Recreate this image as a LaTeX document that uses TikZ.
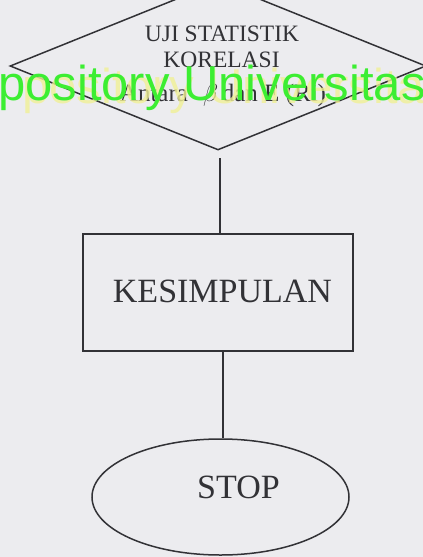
\documentclass[tikz,border=0pt]{standalone}
\usepackage{fontspec}
\setmainfont{Liberation Serif}
\newfontfamily\wmfont{Liberation Sans}
\usetikzlibrary{shapes.geometric}
\definecolor{paper}{RGB}{236,236,239}
\definecolor{ink}{RGB}{50,50,54}
\definecolor{wmgreen}{RGB}{60,238,50}
\definecolor{wmyellow}{RGB}{240,240,150}
\begin{document}
\begin{tikzpicture}[x=1pt,y=-1pt,
  shapeline/.style={draw=ink, line width=1.5pt},
  conn/.style={draw=ink, line width=1.5pt},
  smalltxt/.style={text=ink, inner sep=0pt, anchor=base, font=\fontsize{23.5}{26}\selectfont},
  bigtxt/.style={text=ink, inner sep=0pt, anchor=base, font=\fontsize{34}{38}\selectfont},
  wm/.style={inner sep=0pt, anchor=base west, font=\wmfont\fontsize{49}{55}\selectfont}]
\useasboundingbox (0,0) rectangle (423,557);
\fill[paper] (0,0) rectangle (423,557);
\begin{scope}
\clip (0,0) rectangle (423,557);
% diamond
\node[diamond, shapeline, minimum width=416pt, minimum height=168pt, inner sep=0pt] (uji) at (218,66) {};
\node[smalltxt] (t1) at (222,41) {UJI STATISTIK};
\node[smalltxt] (t2) at (221.5,67) {KORELASI};
\node[smalltxt, font=\fontsize{25}{28}\selectfont] (t3) at (223,101) {Antara\hspace{0.6em}{\fontsize{31}{31}\selectfont$\beta$}\hspace{0.15em}dan E (Ri)};
% rectangle
\node[shapeline, rectangle, minimum width=270pt, minimum height=117pt, inner sep=0pt] (kes) at (218,292.5) {};
\node[bigtxt] (kt) at (222.5,302) {KESIMPULAN};
% ellipse
\node[ellipse, shapeline, minimum width=257pt, minimum height=116pt, inner sep=0pt] (stop) at (220.5,497) {};
\node[bigtxt] (st) at (238.5,498) {STOP};
% connectors
\coordinate (c1) at (220,158);
\draw[conn] (c1) -- (220,0 |- kes.north);
\draw[conn] (223,0 |- kes.south) -- (223,0 |- stop.north);
% watermark
\node[wm, text=wmyellow, opacity=0.8] (wmy) at (22,103) {pository Universitas};
\node[wm, text=wmgreen] (wmg) at (-2,100) {pository Universitas};
\end{scope}
\end{tikzpicture}
\end{document}
